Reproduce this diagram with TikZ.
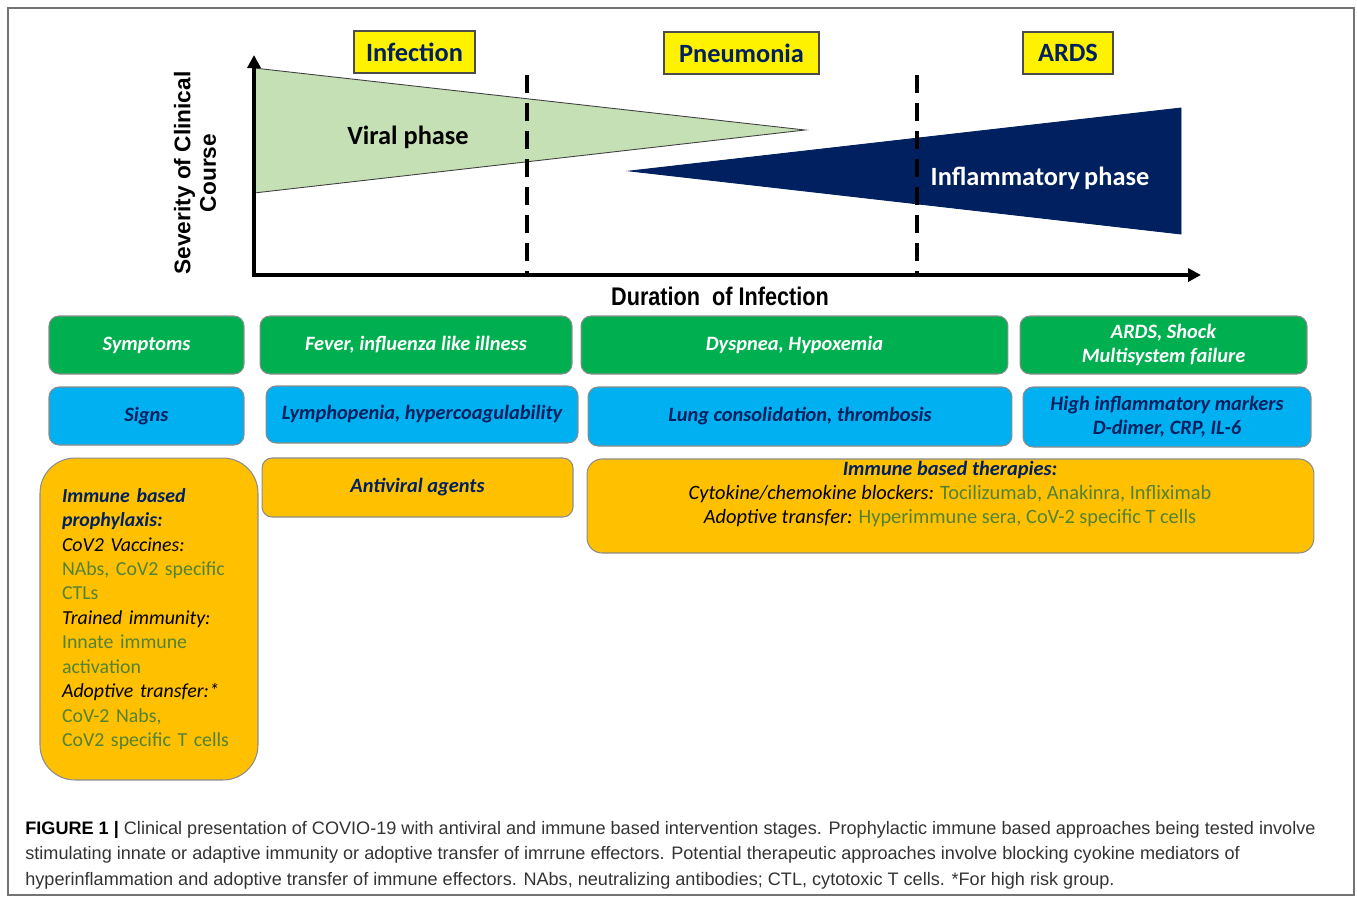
\documentclass[tikz,border=0pt]{standalone}
\usepackage{fontspec}
\setmainfont{Carlito}
\newfontfamily\capfont{Liberation Sans}
\newfontfamily\narrowfont[FakeStretch=0.85]{Liberation Sans}
\usetikzlibrary{arrows.meta, positioning}
\definecolor{symgreen}{RGB}{0,176,80}
\definecolor{signblue}{RGB}{0,176,240}
\definecolor{therorange}{RGB}{255,192,0}
\definecolor{navy}{RGB}{0,32,96}
\definecolor{viralgreen}{RGB}{197,224,180}
\definecolor{agentgreen}{RGB}{84,130,53}
\newcommand{\agent}[1]{{\mdseries\upshape\color{agentgreen}#1}}
\newcommand{\subhd}[1]{{\mdseries\color{black}#1}}

\begin{document}
\begin{tikzpicture}[x=0.02cm, y=-0.02cm,
  sympt/.style={draw=black!45, line width=0.6pt, rounded corners=0.2cm, fill=symgreen,
                text=white, align=center, inner sep=0pt,
                font=\fontsize{11.6}{13.9}\selectfont\bfseries\itshape},
  sign/.style={sympt, fill=signblue, text=navy},
  ther/.style={sympt, fill=therorange, text=navy},
  stage/.style={draw=black!70, line width=0.6pt, fill=yellow, text=navy, inner sep=0pt,
                minimum height=0.84cm, font=\fontsize{15}{17}\selectfont\bfseries},
  phase/.style={font=\fontsize{15}{17}\selectfont\bfseries},
  axis/.style={line width=2pt, {Triangle[length=0.26cm,width=0.26cm]}-{Triangle[length=0.26cm,width=0.26cm]}},
  divider/.style={line width=1.9pt, dash pattern=on 0.36cm off 0.2cm},
  wedge/.style={draw=black!75, line width=0.5pt}
]
\useasboundingbox (0,0) rectangle (1357,897);
\draw[black!55, line width=0.8pt] (8,8) rectangle (1354,895);

% stages
\node[stage, minimum width=2.42cm] (inf) at (414.5,52) {Infection};
\node[stage, minimum width=3.1cm] (pne) at (741.5,53) {Pneumonia};
\node[stage, minimum width=1.8cm] (ardsl) at (1068,53) {ARDS};

% phases
\draw[wedge, fill=viralgreen] (254,68) -- (805,130) -- (254,193) -- cycle;
\draw[wedge, draw=navy, fill=navy] (630,171) -- (1181,108) -- (1181,234) -- cycle;
\node[phase] (viral) at (408,137) {Viral phase};
\node[phase, text=white] (infl) at (1040,178) {Inflammatory\hspace{-1pt} phase};

% axes
\coordinate (o) at (254,275);
\coordinate (ytip) at (254,55);
\coordinate (xtip) at (1201,275);
\draw[axis] (ytip) -- (o) -- (xtip);
\coordinate (d1t) at (527,75);
\coordinate (d1b) at (527,275);
\coordinate (d2t) at (917,75);
\coordinate (d2b) at (917,275);
\draw[divider] (d1t) -- (d1b);
\draw[divider] (d2t) -- (d2b);
\node[rotate=90, align=center, font=\capfont\fontsize{12.9}{14.4}\selectfont\bfseries] (sev) at (195,173)
  {Severity of Clinical\\Course};
\node[font=\narrowfont\fontsize{14.5}{17}\selectfont\bfseries] (dur) at (720,296) {Duration\ \ of Infection};

% symptoms
\node[sympt, minimum width=3.9cm, minimum height=1.16cm] (sym) at (146.5,345) {Symptoms};
\node[sympt, minimum width=6.24cm, minimum height=1.16cm] (fev) at (416,345) {Fever, influenza like illness};
\node[sympt, minimum width=8.54cm, minimum height=1.16cm] (dys) at (794.5,345) {Dyspnea, Hypoxemia};
\node[sympt, minimum width=5.74cm, minimum height=1.16cm] (shock) at (1163.5,345) {ARDS, Shock\\Multisystem failure};

% signs
\node[sign, minimum width=3.9cm, minimum height=1.16cm] (sig) at (146.5,416) {Signs};
\node[sign, minimum width=6.24cm, minimum height=1.14cm] (lym) at (422,414.5) {Lymphopenia, hypercoagulability};
\node[sign, minimum width=8.48cm, minimum height=1.18cm] (lung) at (800,416.5) {Lung consolidation, thrombosis};
\node[sign, minimum width=5.76cm, minimum height=1.2cm] (mark) at (1167,417) {High inflammatory markers\\D-dimer, CRP, IL-6};

% interventions
\node[ther, rounded corners=0.7cm, minimum width=4.36cm, minimum height=6.44cm,
      text width=3.48cm, align=left, font=\fontsize{11.3}{13.9}\selectfont\bfseries\itshape] (pro) at (149,619)
  {Immune based\\prophylaxis:\\\subhd{CoV2 Vaccines:}\\\agent{NAbs, CoV2 specific}\\\agent{CTLs}\\
   \subhd{Trained immunity:}\\\agent{Innate immune}\\\agent{activation}\\
   \subhd{Adoptive transfer:*}\\\agent{CoV-2 Nabs,}\\\agent{CoV2 specific T cells}};
\node[ther, minimum width=6.22cm, minimum height=1.18cm] (anti) at (417.5,487.5) {Antiviral agents};
\node[ther, rounded corners=0.3cm, minimum width=14.54cm, minimum height=1.88cm] (thb) at (950.5,506) {};
\node[ther, draw=none, fill=none] (thtxt) at (950,494)
  {Immune based therapies:\\
   \subhd{Cytokine/chemokine blockers:} \agent{Tocilizumab, Anakinra, Infliximab}\\
   \subhd{Adoptive transfer:} \agent{Hyperimmune sera, CoV-2 specific T cells}};

% caption
\node[anchor=west, align=left, inner sep=0pt, text=black!80,
      font=\capfont\fontsize{10.3}{14.5}\selectfont] (cap) at (25,855)
  {{\color{black}\bfseries FIGURE 1 |} Clinical presentation of COVIO-19 with antiviral and immune based intervention stages. Prophylactic immune based approaches being tested involve\\
   stimulating innate or adaptive immunity or adoptive transfer of imrrune effectors. Potential therapeutic approaches involve blocking cyokine mediators of\\
   hyperinflammation and adoptive transfer of immune effectors. NAbs, neutralizing antibodies; CTL, cytotoxic T cells. *For high risk group.};
\end{tikzpicture}
\end{document}
